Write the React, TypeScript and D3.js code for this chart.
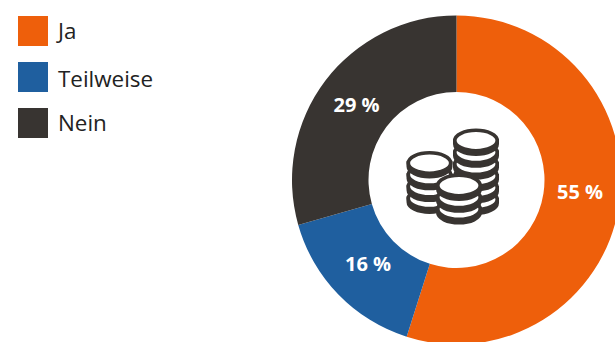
import React from "react";
import * as d3 from "d3";

const categories = ["Ja", "Teilweise", "Nein"];
const values = [54.9, 15.7, 29.4];
const colors = ["#EE5F0B", "#1F5F9F", "#383431"];
const labels = ["55 %", "16 %", "29 %"];
const font = "'Open Sans', sans-serif";

const legendBoxY = [16, 62, 108];
const legendTextY = [39, 87, 131];
const labelX = [580, 368, 356.5];
const labelY = [192, 264, 105];
const stacks = [
  { cx: 476, top: 140.5, layers: 6 },
  { cx: 429.5, top: 163, layers: 4 },
  { cx: 459, top: 185.5, layers: 3 },
];

function Stack({ cx, top, layers }: { cx: number; top: number; layers: number }) {
  const rx = 21.2;
  const ry = 10.2;
  const step = 11.8;
  const h = 3.5;
  const ink = "#383431";
  const idx = d3.range(layers - 1, -1, -1);
  return (
    <g>
      {idx.map((i) => {
        const y = top + i * step;
        return (
          <g key={i}>
            <path
              d={`M${cx - rx},${y} V${y + h} A${rx},${ry} 0 0 0 ${cx + rx},${y + h} V${y} Z`}
              fill={ink}
              stroke={ink}
              strokeWidth={3.6}
            />
            <ellipse cx={cx} cy={y} rx={rx} ry={ry} fill="#fff" stroke={ink} strokeWidth={3.6} />
          </g>
        );
      })}
    </g>
  );
}

export default function App() {
  const cx = 456.5;
  const cy = 180;
  const pie = d3.pie<number>().value((d) => d).sort(null)(values);
  const arc = d3.arc<d3.PieArcDatum<number>>().innerRadius(88).outerRadius(164.5);
  return (
    <svg
      width={615}
      height={342}
      style={{ position: "absolute", left: 0, top: 0, background: "#fff" }}
      fontFamily={font}
    >
      {categories.map((c, i) => (
        <g key={c}>
          <rect x={18} y={legendBoxY[i]} width={30} height={30} fill={colors[i]} />
          <text x={58} y={legendTextY[i]} fontSize={22.4} fill="#222">
            {c}
          </text>
        </g>
      ))}
      <g transform={`translate(${cx},${cy})`}>
        {pie.map((p, i) => (
          <path key={i} d={arc(p) || ""} fill={colors[i]} />
        ))}
      </g>
      {labels.map((t, i) => (
        <text key={i} x={labelX[i]} y={labelY[i]} dy="0.35em" textAnchor="middle" fontSize={20} fontWeight={700} fill="#fff">
          {t}
        </text>
      ))}
      {stacks.map((s, i) => (
        <Stack key={i} {...s} />
      ))}
    </svg>
  );
}
